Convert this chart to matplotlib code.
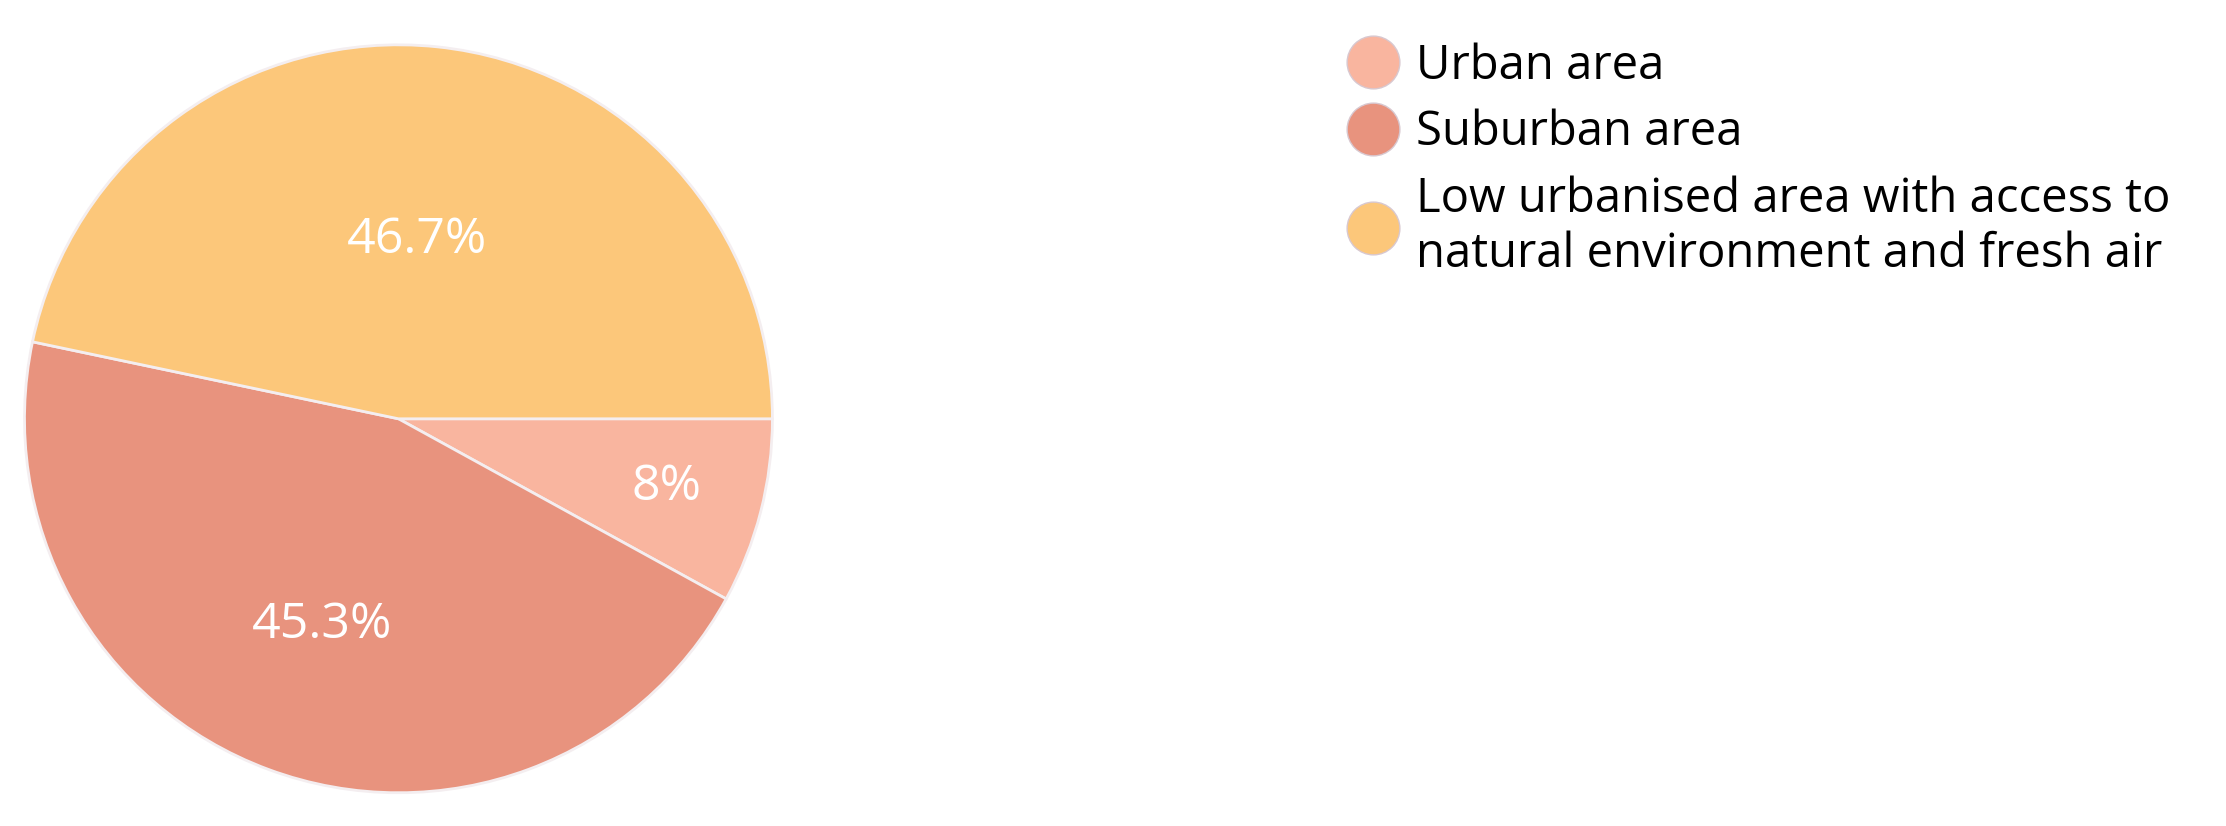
import numpy as np
import matplotlib.pyplot as plt
from matplotlib.lines import Line2D

labels = ["Urban area", "Suburban area",
          "Low urbanised area with access to\nnatural environment and fresh air"]
shares = [8.0, 45.3, 46.7]
pct_text = ["8%", "45.3%", "46.7%"]
colors = ["#F9B59F", "#E8937E", "#FCC77A"]
label_dist = [0.74, 0.59, 0.48]

plt.rcParams["font.family"] = ["Open Sans", "DejaVu Sans"]

fig = plt.figure(figsize=(22.26, 8.26), dpi=100)
ax = fig.add_axes([0.010, 0.038, 0.338, 0.91])
wedges, _ = ax.pie(shares, colors=colors, startangle=0, counterclock=False,
                   wedgeprops=dict(edgecolor="#f4eef0", linewidth=2))
ax.set_xlim(-1.005, 1.005)
ax.set_ylim(-1.005, 1.005)
ax.set_aspect("equal")

for w, txt, d in zip(wedges, pct_text, label_dist):
    ang = np.deg2rad((w.theta1 + w.theta2) / 2)
    ax.text(d * np.cos(ang), d * np.sin(ang), txt, ha="center", va="center",
            color="white", fontsize=36)

handles = [Line2D([], [], marker="o", linestyle="", markersize=38,
                  markerfacecolor=c, markeredgecolor="#d8c8d0")
           for c in colors]
fig.legend(handles, labels, loc="upper left", bbox_to_anchor=(0.585, 1.0),
           frameon=False, fontsize=34, handletextpad=0.3, labelspacing=0.4,
           handlelength=1.2)

fig.savefig("out.png")
